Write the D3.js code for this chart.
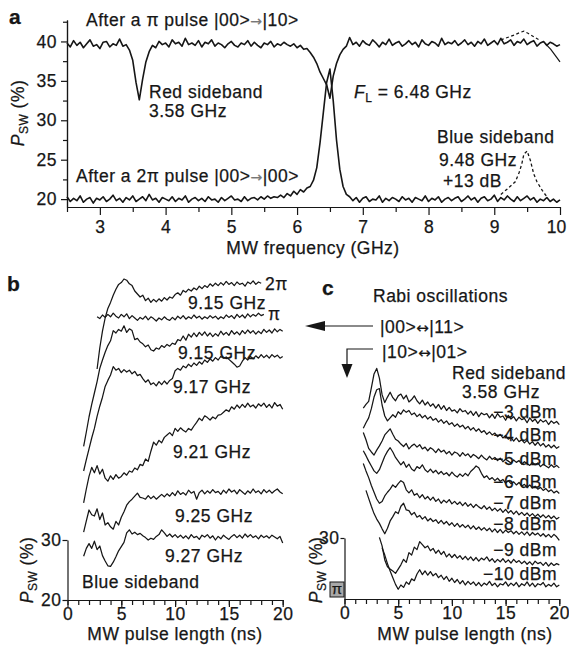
<!DOCTYPE html>
<html>
<head>
<meta charset="utf-8">
<script src="https://cdn.jsdelivr.net/npm/d3@7"></script>
<style>
  body { margin: 0; background: #fff; }
</style>
</head>
<body>
<div id="chart"></div>
<script>
// ---------- panel a : P_SW vs MW frequency, 0.05 GHz grid ----------
var aFreqStart = 2.5, aFreqStep = 0.05;
var aPiPulse = [
  39.8, 39.3, 40.1, 39.5, 39.9, 39.2, 39.7, 40.2, 39.4, 39.6, 39.1, 39.9, 40.0, 39.3, 39.7, 39.5, 40.3, 39.4, 39.6,
  38.9, 37.6, 34.8, 32.6, 35.2, 37.4, 38.7, 39.5,
  39.2, 40.0, 39.6, 39.8, 39.3, 40.2, 39.7, 39.9, 39.4, 40.4, 39.6, 39.8, 39.5, 40.1, 39.3, 39.9, 39.7, 40.2, 39.4, 39.8,
  39.6, 39.2, 39.7, 40.0, 39.5, 39.3, 39.8, 39.6, 40.1, 39.4, 39.9, 39.5, 39.2, 39.8, 39.6, 40.0, 39.3, 39.7, 39.5, 39.9,
  39.6, 39.4, 39.7, 39.2, 39.5, 39.0,
  39.1, 38.6, 38.0, 37.2, 36.1, 35.3, 34.5, 32.8, 35.6, 37.2, 38.3, 39.0, 39.4, 40.5,
  39.6, 39.9, 39.4, 40.1, 39.7, 39.5, 40.2, 39.8, 39.3, 39.9, 39.6, 40.3, 39.5, 39.8, 40.0, 39.4, 39.7, 40.1, 39.6, 39.9,
  39.3, 40.2, 39.7, 39.5, 40.0, 39.8, 39.4, 40.4, 39.6, 39.9, 39.7, 40.1, 39.5, 39.8, 40.2, 39.6, 39.9, 39.4, 40.0, 39.7,
  40.3, 39.5, 39.8, 40.1, 39.6, 40.4, 39.7, 39.9, 40.2, 39.5, 40.0, 39.8, 40.3, 39.6, 39.9, 40.1, 39.4, 39.8, 40.0, 39.5,
  39.9, 39.7, 39.4, 39.6
];
var a2PiPulse = [
  20.3, 19.7, 20.1, 19.8, 20.4, 19.6, 20.0, 20.2, 19.5, 20.1, 19.9, 20.3, 19.7, 20.0, 20.5, 19.8, 20.1, 19.6, 20.2, 19.9,
  20.4, 19.7, 20.0, 20.3, 19.8, 20.6, 19.9, 20.1, 19.6, 20.2, 20.0, 19.8, 20.3, 19.7, 20.1, 19.9, 20.4, 19.6, 20.0, 20.2,
  19.8, 20.1, 19.7, 20.3, 19.9, 20.0, 19.6, 20.2, 19.8, 20.1, 20.4, 19.9, 20.0, 19.7, 20.3, 19.8, 20.1, 20.2, 19.9, 20.3,
  20.0, 20.4, 20.1, 20.3, 20.2,
  20.5, 20.2, 20.7, 20.4, 21.0, 20.6, 21.2, 20.9, 21.4, 21.6, 22.4, 24.0, 27.2, 31.0, 34.8, 36.5, 32.5, 27.5, 23.8, 21.6,
  20.6, 20.3,
  19.8, 20.2, 19.6, 20.1, 20.3, 19.7, 20.0, 19.9, 20.4, 19.6, 20.1, 19.8, 20.2, 20.0, 19.7, 20.3, 19.9, 20.1, 19.6, 20.2,
  20.0, 19.8, 20.4, 19.7, 20.1, 19.9, 20.3, 19.6, 20.0, 20.2, 19.8, 20.1, 20.3, 19.7, 20.0, 20.4, 19.9, 20.2, 19.6, 20.1,
  20.3, 19.8, 20.0, 20.5, 19.7, 20.2, 19.9, 20.4, 20.0, 19.7, 20.3, 19.8, 20.1, 20.4, 19.9, 20.2, 19.6, 20.0, 19.8, 20.2,
  19.7, 20.0, 19.6, 19.9
];
var aBlueDashX = [9.1, 9.2, 9.32, 9.38, 9.42, 9.45, 9.5, 9.55, 9.6, 9.65, 9.73, 9.8];
var aBlueDashY = [20.6, 21.3, 22.2, 23.4, 24.5, 25.7, 26.1, 24.9, 23.2, 22.2, 21.1, 20.3];
var aTopDashX = [9.1, 9.2, 9.3, 9.38, 9.45, 9.52, 9.6, 9.68];
var aTopDashY = [40.2, 40.5, 40.8, 41.1, 41.3, 41.0, 40.6, 40.2];
var aTailX = [9.78, 9.86, 9.93, 10.0];
var aTailY = [39.7, 39.0, 38.2, 37.4];
var aMajorX = [3, 4, 5, 6, 7, 8, 9, 10];
var aMinorX = [2.5, 3.5, 4.5, 5.5, 6.5, 7.5, 8.5, 9.5];
var aMajorY = [20, 25, 30, 35, 40];
var aMinorY = [22.5, 27.5, 32.5, 37.5, 42.5];

// ---------- panel b : blue sideband, 0.25 ns grid (values in offset axis units) ----------
var pulseStep = 0.25;
var bTrace2Pi = [58.5, 62.0, 64.8, 67.0, 68.6, 69.6, 70.8, 71.8, 72.6, 72.9, 73.5, 73.3, 72.7, 72.4, 71.5, 71.0, 70.5, 70.8, 69.9, 70.3,
  69.6, 70.1, 69.7, 70.2, 69.8, 70.4, 70.0, 70.5, 70.3, 70.9, 71.2, 70.8, 71.6, 71.3, 71.8, 71.5, 72.0, 71.7, 72.3, 71.9,
  72.4, 72.1, 72.7, 72.3, 72.8, 72.4, 72.9, 72.5, 73.1, 72.6, 72.9, 72.4, 73.0, 72.6, 72.8, 72.3, 73.0, 72.7, 73.2, 72.6,
  73.0, 72.8];
var bTracePi = [67.2, 66.9, 67.5, 67.1, 67.6, 67.2, 67.8, 67.3, 67.0, 67.6, 67.2, 67.7, 66.9, 67.4, 67.0, 66.6, 67.1, 66.8, 67.3, 66.7,
  67.2, 66.9, 66.5, 67.0, 66.7, 67.2, 66.8, 66.6, 67.1, 66.7, 67.3, 66.9, 67.4, 66.8, 67.2, 66.9, 67.5, 67.0, 67.3, 66.8,
  67.2, 66.9, 67.4, 67.0, 67.3, 66.8, 67.2, 66.9, 67.5, 67.1, 67.4, 66.9, 67.6, 67.1, 67.5, 67.0, 67.7, 67.2, 67.6, 67.3,
  67.8, 67.4, 67.6];
var bTrace915 = [45.6, 48.0, 50.5, 52.6, 54.5, 56.4, 58.6, 60.0, 61.3, 62.4, 63.2, 64.9, 64.5, 65.1, 64.8, 65.7, 64.6, 65.2, 64.9, 63.4,
  63.6, 63.0, 62.7, 62.2, 62.5, 61.7, 61.5, 62.0, 61.8, 62.4, 62.1, 62.6, 62.3, 62.8, 62.6, 63.4, 63.2, 64.0, 63.3, 64.3,
  63.8, 64.5, 63.9, 64.6, 64.1, 64.7, 64.0, 64.5, 63.9, 64.4, 64.0, 64.8, 64.2, 64.6, 64.1, 64.9, 64.3, 64.7, 64.2, 64.9,
  64.4, 65.0, 64.5, 64.9, 64.3, 64.8, 64.4, 65.1, 64.6, 65.0, 64.5, 65.2, 64.7, 65.1, 64.8];
var bTrace917 = [41.5, 43.4, 45.2, 47.0, 48.6, 50.6, 52.3, 53.8, 55.6, 56.6, 57.5, 58.9, 58.3, 58.6, 57.9, 58.4, 58.0, 58.3, 57.7, 58.1,
  57.4, 57.6, 56.9, 56.3, 56.7, 55.9, 56.2, 55.7, 56.4, 55.9, 56.5, 56.0, 56.6, 56.9, 58.2, 58.6, 58.3, 59.0, 58.7, 59.3,
  58.9, 59.5, 59.1, 59.7, 59.3, 60.0, 59.6, 60.2, 59.8, 60.4, 60.0, 60.6, 60.3, 60.5, 60.1, 59.7, 59.3, 58.8, 59.0, 59.8,
  60.4, 60.0, 60.6, 60.2, 60.7, 60.3, 60.9, 60.4, 60.8, 60.3, 60.9, 60.5, 60.8, 60.3, 60.6];
var bTrace921 = [36.2, 38.5, 40.6, 42.1, 41.2, 42.4, 41.0, 41.8, 40.3, 39.8, 40.7, 40.1, 40.9, 40.3, 40.6, 41.2, 40.8, 41.5, 41.3, 42.0,
  41.7, 42.6, 42.4, 43.5, 43.1, 44.8, 46.3, 45.8, 46.6, 46.2, 47.1, 47.5, 47.9, 47.4, 48.6, 48.1, 48.7, 48.3, 48.0, 48.6,
  48.3, 49.0, 49.6, 50.3, 49.9, 50.7, 50.4, 50.0, 50.5, 50.2, 50.8, 50.9, 51.3, 51.7, 51.4, 52.2, 51.8, 52.5, 52.0, 52.6,
  52.1, 52.8, 52.2, 52.5, 52.0, 52.7, 52.3, 52.8, 52.1, 52.6, 52.0, 52.9, 52.3, 52.6, 51.8];
var bTrace925 = [31.3, 33.2, 35.0, 34.2, 34.0, 35.2, 33.4, 34.5, 32.5, 32.9, 32.2, 31.8, 33.1, 32.5, 33.8, 34.7, 35.8, 36.4, 36.8, 37.3,
  37.8, 37.1, 37.0, 36.8, 37.4, 36.9, 37.3, 36.8, 37.2, 37.6, 37.2, 37.7, 37.3, 37.9, 37.4, 38.2, 37.6, 37.9, 37.5, 38.3,
  37.8, 38.1, 36.8, 37.9, 38.3, 37.7, 38.2, 37.8, 38.4, 37.9, 38.1, 37.6, 38.3, 37.8, 38.5, 38.0, 38.3, 37.7, 38.4, 38.0,
  37.6, 38.2, 37.8, 38.5, 37.9, 38.2, 37.7, 38.4, 37.9, 38.3, 37.8, 38.2, 38.5, 38.0, 37.7];
var bTrace927 = [27.3, 28.6, 29.4, 28.6, 29.8, 28.4, 29.0, 27.4, 26.5, 25.7, 25.6, 26.3, 27.2, 28.2, 28.9, 29.6, 31.2, 31.7, 31.0, 31.3,
  30.9, 31.1, 30.7, 30.4, 30.0, 30.3, 30.1, 30.6, 30.9, 31.7, 31.2, 30.6, 31.0, 30.5, 30.9, 30.4, 30.8, 30.3, 30.7, 30.2,
  30.9, 30.4, 30.6, 30.1, 30.8, 30.5, 30.9, 30.3, 30.7, 30.0, 30.6, 30.2, 30.8, 30.4, 30.1, 30.6, 30.9, 30.4, 30.8, 30.3,
  31.0, 30.5, 30.9, 30.4, 30.7, 30.2, 30.8, 30.4, 30.7, 30.3, 30.8, 30.5, 30.2, 30.6, 29.5];
var bStartNs = [2.75, 2.75, 1.5, 1.5, 1.5, 1.5, 1.5];
var bNames = ["2\u03c0", "\u03c0", "9.15 GHz", "9.17 GHz", "9.21 GHz", "9.25 GHz", "9.27 GHz"];

// ---------- panel c : red sideband Rabi, 0.25 ns grid ----------
var cTrace3 = [51.3, 51.9, 52.4, 54.6, 56.9, 57.8, 56.2, 53.5, 52.2, 53.1, 53.9, 53.0, 52.5, 53.3, 53.6, 52.8, 53.4, 52.3, 52.7, 53.3,
  52.5, 52.0, 52.6, 51.8, 52.3, 51.6, 52.0, 51.3, 51.9, 51.1, 51.7, 50.9, 51.4, 50.8, 51.0, 50.5, 51.2, 50.7, 50.9, 50.3,
  50.8, 50.1, 50.7, 49.9, 50.5, 50.2, 50.4, 49.7, 50.3, 49.6, 50.4, 49.8, 50.0, 49.3, 50.1, 49.5, 49.9, 49.2, 49.8, 49.4,
  49.6, 48.9, 49.7, 49.1, 49.5, 48.8, 49.4, 49.0, 49.3, 48.6, 49.2, 48.8, 49.1, 48.6];
var cTrace4 = [48.0, 48.9, 49.7, 51.2, 53.1, 54.3, 54.5, 51.8, 50.0, 49.2, 49.7, 50.2, 49.8, 50.7, 50.3, 51.0, 50.6, 50.9, 50.2, 50.5,
  49.9, 50.3, 49.7, 50.1, 49.5, 49.9, 49.3, 49.6, 49.0, 49.4, 48.8, 49.2, 48.6, 48.9, 48.3, 48.7, 48.2, 48.5, 47.9, 48.3,
  47.7, 48.1, 47.5, 47.9, 47.3, 47.6, 47.0, 47.4, 46.9, 47.2, 46.6, 47.0, 46.4, 46.8, 46.2, 46.5, 45.9, 46.4, 45.8, 46.1,
  45.6, 46.0, 45.4, 45.8, 45.2, 45.7, 45.1, 45.5, 44.9, 45.3, 44.8, 45.2, 44.7, 45.0];
var cTrace5 = [47.3, 46.1, 44.7, 44.1, 43.6, 44.4, 45.1, 45.9, 46.9, 47.4, 47.9, 47.0, 46.2, 45.9, 45.4, 45.0, 45.5, 44.6, 45.1, 45.4,
  44.9, 45.3, 44.6, 44.9, 44.3, 44.8, 44.5, 44.0, 44.6, 44.1, 44.4, 43.8, 44.2, 43.6, 44.1, 43.9, 43.4, 44.0, 43.5, 43.8,
  43.2, 43.7, 43.4, 43.0, 43.6, 43.1, 42.8, 43.4, 42.9, 43.2, 42.7, 43.1, 42.5, 42.9, 42.6, 42.3, 42.8, 42.4, 42.7, 42.1,
  42.5, 42.2, 41.9, 42.4, 42.0, 42.3, 41.7, 42.1, 41.8, 41.5, 42.0, 41.6, 41.9, 41.5];
var cTrace6 = [44.3, 43.5, 42.6, 41.8, 41.0, 40.6, 41.2, 42.3, 43.4, 44.2, 44.8, 44.1, 43.2, 42.6, 42.0, 42.5, 41.6, 42.1, 41.3, 41.0,
  41.7, 41.4, 42.0, 41.2, 40.8, 41.3, 40.7, 41.1, 40.5, 40.9, 40.4, 40.7, 40.2, 40.8, 40.3, 40.0, 40.5, 40.1, 40.6, 40.2,
  40.9, 41.3, 41.8, 41.5, 40.6, 39.9, 40.2, 39.6, 39.9, 39.4, 39.8, 39.3, 39.6, 39.0, 39.4, 38.9, 39.2, 38.7, 39.1, 38.5,
  38.8, 38.3, 38.7, 38.2, 38.5, 38.0, 38.3, 37.8, 38.1, 37.6, 37.9, 37.4, 37.7, 37.3];
var cTrace7 = [42.2, 41.0, 39.9, 38.6, 37.5, 36.4, 35.7, 36.0, 36.9, 37.5, 38.0, 38.7, 38.3, 38.9, 39.4, 39.1, 37.9, 37.4, 37.9, 37.0,
  37.3, 36.6, 37.1, 36.4, 36.8, 36.2, 36.7, 36.0, 36.4, 35.7, 36.2, 35.8, 36.3, 35.6, 36.0, 35.5, 35.9, 35.3, 35.8, 35.2,
  35.6, 35.0, 35.5, 35.1, 34.8, 35.3, 34.7, 35.1, 34.5, 34.9, 34.4, 34.8, 34.2, 34.7, 34.1, 34.5, 33.9, 34.4, 33.8, 34.2,
  33.7, 34.1, 33.6, 34.0, 33.5, 33.9, 33.4, 33.8, 33.3, 33.7, 33.2, 33.6, 33.1, 33.4];
var cTrace8 = [37.8, 36.5, 35.2, 34.0, 33.1, 32.4, 31.5, 30.7, 31.6, 32.8, 33.5, 34.3, 34.0, 35.2, 35.7, 34.6, 34.5, 33.8, 34.2, 33.4,
  33.7, 33.1, 33.5, 32.8, 33.2, 32.7, 33.0, 32.4, 32.9, 32.3, 32.7, 32.1, 32.5, 31.9, 32.4, 31.8, 32.2, 31.7, 32.1, 31.5,
  32.0, 31.4, 31.8, 31.3, 31.7, 31.2, 31.6, 31.0, 31.5, 30.9, 31.4, 30.8, 31.3, 30.9, 31.2, 30.7, 31.1, 30.6, 31.0, 30.5,
  31.0, 30.4, 30.9, 30.5, 30.8, 30.3, 30.7, 30.2, 30.6, 30.1, 30.6, 30.2, 29.6];
var cTrace9 = [30.1, 28.7, 26.4, 25.3, 24.9, 24.6, 24.2, 24.9, 25.6, 26.5, 26.0, 27.6, 27.2, 28.5, 28.1, 29.4, 28.9, 28.4, 28.7, 27.9,
  28.3, 27.5, 28.0, 27.3, 27.8, 26.9, 27.4, 26.8, 27.3, 26.7, 27.1, 26.5, 27.0, 26.4, 26.9, 26.3, 26.8, 26.2, 26.7, 26.4,
  26.9, 26.2, 26.6, 26.0, 26.5, 26.1, 26.6, 26.0, 26.4, 25.9, 26.5, 26.0, 26.3, 25.8, 26.2, 25.7, 26.1, 25.6, 26.2, 25.8,
  26.0, 25.5, 26.0, 25.4, 25.9, 25.5, 25.8, 25.6];
var cTrace10 = [28.4, 27.2, 25.8, 24.6, 23.5, 22.4, 21.6, 22.3, 21.9, 22.8, 22.4, 23.3, 23.0, 24.1, 24.8, 24.0, 24.6, 23.9, 24.5, 23.8,
  24.2, 23.5, 23.9, 23.2, 23.7, 22.9, 23.4, 22.7, 23.2, 22.5, 23.0, 22.3, 22.9, 22.4, 22.8, 22.2, 22.7, 22.1, 22.6, 22.3,
  22.9, 22.2, 22.6, 22.0, 22.5, 22.3, 22.8, 22.1, 22.6, 22.2, 22.7, 22.0, 22.5, 22.2, 22.8, 22.1, 22.6, 22.0, 22.5, 22.3,
  22.7, 22.0, 22.4, 22.1, 22.6, 22.0, 22.3];
var cStartNs = [1.75, 1.75, 1.75, 1.75, 1.75, 2.0, 3.25, 3.5];
var cNames = ["\u22123 dBm", "\u22124 dBm", "\u22125 dBm", "\u22126 dBm", "\u22127 dBm", "\u22128 dBm", "\u22129 dBm", "\u221210 dBm"];
var pulseMajor = [0, 5, 10, 15, 20];
var pulseMinor = d3.range(0, 21);

var FONT = "'Liberation Sans', Arial, Helvetica, sans-serif";
var INK = "#161616";
var FS = 17.5;

var svg = d3.select("#chart").append("svg")
    .attr("width", 569)
    .attr("height", 645)
    .attr("font-family", FONT);
svg.append("rect").attr("width", 569).attr("height", 645).attr("fill", "#fff");

function styleAxis(g) {
  g.selectAll(".domain").attr("stroke", INK).attr("stroke-width", 1.2);
  g.selectAll(".tick line").attr("stroke", INK).attr("stroke-width", 1.2);
  g.selectAll(".tick text")
   .attr("font-size", FS)
   .attr("font-family", FONT)
   .attr("letter-spacing", 0.5)
   .attr("stroke", INK).attr("stroke-width", 0.25)
   .attr("fill", INK);
}

function addText(x, y, s, opt) {
  opt = opt || {};
  return svg.append("text")
    .attr("x", x).attr("y", y)
    .attr("font-size", opt.size || FS)
    .attr("font-weight", opt.weight || null)
    .attr("letter-spacing", opt.ls == null ? 0.5 : opt.ls)
    .attr("text-anchor", opt.anchor || "start")
    .attr("stroke", INK).attr("stroke-width", 0.25)
    .attr("fill", INK)
    .text(s);
}

function ket(x, y, a, arrow, b, arrowSize, arrowColor) {
  var t = svg.append("text").attr("x", x).attr("y", y)
    .attr("font-size", FS).attr("letter-spacing", 0.5)
    .attr("stroke", INK).attr("stroke-width", 0.25).attr("fill", INK);
  t.append("tspan").text(a);
  t.append("tspan").attr("font-size", arrowSize).attr("font-family", "'DejaVu Sans', sans-serif")
    .attr("fill", arrowColor).attr("stroke", arrowColor).text(arrow);
  t.append("tspan").text(b);
  return t;
}

function yTitle(x, y) {
  var t = svg.append("text")
    .attr("transform", "translate(" + x + "," + y + ") rotate(-90)")
    .attr("text-anchor", "middle")
    .attr("font-size", FS)
    .attr("letter-spacing", 0.5)
    .attr("stroke", INK).attr("stroke-width", 0.25)
    .attr("fill", INK);
  t.append("tspan").attr("font-style", "italic").text("P");
  t.append("tspan").attr("font-size", 12).attr("dy", 4).text("SW");
  t.append("tspan").attr("dy", -4).text(" (%)");
}

// ================= panel a =================
var xA = d3.scaleLinear().domain([2.5, 10]).range([67, 560]);
var yA = d3.scaleLinear().domain([19, 42.72]).range([207, 20]);

var gxA = svg.append("g").attr("transform", "translate(0,207)");
gxA.append("g").call(d3.axisBottom(xA).tickValues(aMinorX).tickSize(5).tickSizeOuter(0).tickFormat(""));
gxA.append("g").call(d3.axisBottom(xA).tickValues(aMajorX).tickSize(8).tickPadding(6).tickSizeOuter(0));
styleAxis(gxA);
// last label sits at the page edge: pull it in a little
gxA.selectAll(".tick text").filter(function(d) { return d === 10; }).attr("dx", -4).attr("letter-spacing", 0);

var gyA = svg.append("g").attr("transform", "translate(67,0)");
gyA.append("g").call(d3.axisLeft(yA).tickValues(aMinorY).tickSize(4).tickSizeOuter(0).tickFormat(""));
gyA.append("g").call(d3.axisLeft(yA).tickValues(aMajorY).tickSize(6).tickPadding(4).tickSizeOuter(0));
styleAxis(gyA);

var lineA = d3.line().x(function(d) { return xA(d[0]); }).y(function(d) { return yA(d[1]); });
function gridPts(start, step, vals) {
  return vals.map(function(v, i) { return [start + i * step, v]; });
}
function pairPts(xs, ys) {
  return xs.map(function(x, i) { return [x, ys[i]]; });
}

[aPiPulse, a2PiPulse].forEach(function(vals) {
  svg.append("path")
    .attr("d", lineA(gridPts(aFreqStart, aFreqStep, vals)))
    .attr("fill", "none").attr("stroke", INK).attr("stroke-width", 1.6)
    .attr("stroke-linejoin", "round");
});
svg.append("path").attr("d", lineA(pairPts(aBlueDashX, aBlueDashY)))
  .attr("fill", "none").attr("stroke", INK).attr("stroke-width", 1.3).attr("stroke-dasharray", "3,2.5");
svg.append("path").attr("d", lineA(pairPts(aTopDashX, aTopDashY)))
  .attr("fill", "none").attr("stroke", INK).attr("stroke-width", 1.2).attr("stroke-dasharray", "3,2.5");
svg.append("path").attr("d", lineA(pairPts(aTailX, aTailY)))
  .attr("fill", "none").attr("stroke", INK).attr("stroke-width", 1.2);

addText(9, 24, "a", { size: 21, weight: "bold", ls: 0 });
ket(86, 26, "After a \u03c0 pulse |00>", "\u2192", "|10>", 14, "#777");
ket(76, 182, "After a 2\u03c0 pulse |00>", "\u2192", "|00>", 14, "#777");
addText(149, 98, "Red sideband");
addText(149, 117, "3.58 GHz");
var fl = svg.append("text").attr("x", 354).attr("y", 98).attr("font-size", FS)
  .attr("letter-spacing", 0.5).attr("stroke", INK).attr("stroke-width", 0.25).attr("fill", INK);
fl.append("tspan").attr("font-style", "italic").text("F");
fl.append("tspan").attr("font-size", 12).attr("dy", 4).text("L");
fl.append("tspan").attr("dy", -4).text(" = 6.48 GHz");
addText(437, 143, "Blue sideband");
addText(439, 166, "9.48 GHz");
addText(443, 187, "+13 dB");
addText(313, 254, "MW frequency (GHz)", { anchor: "middle" });
yTitle(24, 113);

// ================= panel b =================
var xB = d3.scaleLinear().domain([0, 20]).range([67.5, 282.7]);
var yB = d3.scaleLinear().domain([20, 30]).range([600, 540]);

var gxB = svg.append("g").attr("transform", "translate(0,600)");
gxB.append("g").call(d3.axisBottom(xB).tickValues(pulseMinor).tickSize(5).tickSizeOuter(0).tickFormat(""));
gxB.append("g").call(d3.axisBottom(xB).tickValues(pulseMajor).tickSize(7).tickPadding(1).tickSizeOuter(0));
styleAxis(gxB);
var gyB = svg.append("g").attr("transform", "translate(67.5,0)");
gyB.call(d3.axisLeft(yB).tickValues([20, 30]).tickSize(5).tickPadding(1).tickSizeOuter(0));
styleAxis(gyB);

var lineB = d3.line().x(function(d) { return xB(d[0]); }).y(function(d) { return yB(d[1]); });
[bTrace2Pi, bTracePi, bTrace915, bTrace917, bTrace921, bTrace925, bTrace927].forEach(function(vals, k) {
  svg.append("path")
    .attr("d", lineB(gridPts(bStartNs[k], pulseStep, vals)))
    .attr("fill", "none").attr("stroke", INK).attr("stroke-width", 1.25)
    .attr("stroke-linejoin", "round");
});

addText(7, 291, "b", { size: 21, weight: "bold", ls: 0 });
var bLabelPos = [[265, 290], [268, 320], [188, 309], [173, 393], [173, 458], [175, 522], [165, 562]];
bNames.forEach(function(s, k) { addText(bLabelPos[k][0], bLabelPos[k][1], s); });
addText(178, 359, "9.15 GHz");
addText(82, 588, "Blue sideband");
addText(175, 640, "MW pulse length (ns)", { anchor: "middle" });
yTitle(33, 570);

// ================= panel c =================
var xC = d3.scaleLinear().domain([0, 20]).range([344.5, 559.3]);
var yC = d3.scaleLinear().domain([20, 30]).range([599, 538]);

var gxC = svg.append("g").attr("transform", "translate(0,599)");
gxC.append("g").call(d3.axisBottom(xC).tickValues(pulseMinor).tickSize(5).tickSizeOuter(0).tickFormat(""));
gxC.append("g").call(d3.axisBottom(xC).tickValues(pulseMajor).tickSize(7).tickPadding(1).tickSizeOuter(0));
styleAxis(gxC);
var gyC = svg.append("g").attr("transform", "translate(344.5,0)");
gyC.call(d3.axisLeft(yC).tickValues([30]).tickSize(4).tickPadding(1).tickSizeOuter(0));
styleAxis(gyC);

var lineC = d3.line().x(function(d) { return xC(d[0]); }).y(function(d) { return yC(d[1]); });
[cTrace3, cTrace4, cTrace5, cTrace6, cTrace7, cTrace8, cTrace9, cTrace10].forEach(function(vals, k) {
  svg.append("path")
    .attr("d", lineC(gridPts(cStartNs[k], pulseStep, vals)))
    .attr("fill", "none").attr("stroke", INK).attr("stroke-width", 1.25)
    .attr("stroke-linejoin", "round");
});

// pi pulse box
svg.append("rect").attr("x", 330).attr("y", 582).attr("width", 14).attr("height", 15)
  .attr("fill", "#a8a8a8").attr("stroke", INK).attr("stroke-width", 1);
addText(337, 594, "\u03c0", { size: 15, anchor: "middle", ls: 0 });

addText(322, 295, "c", { size: 21, weight: "bold", ls: 0 });
addText(373, 302, "Rabi oscillations");
ket(380, 333, "|00>", "\u2194", "|11>", 15, INK);
ket(382, 358, "|10>", "\u2194", "|01>", 15, INK);

// arrows pointing to panels b and c
svg.append("path").attr("d", "M373,326H322").attr("stroke", INK).attr("stroke-width", 1.2).attr("fill", "none");
svg.append("path").attr("d", "M305,326L325,321L325,331Z").attr("fill", INK);
svg.append("path").attr("d", "M373,349H347V366").attr("stroke", INK).attr("stroke-width", 1.2).attr("fill", "none");
svg.append("path").attr("d", "M347,378L341.5,364L352.5,364Z").attr("fill", INK);

addText(452, 379, "Red sideband");
addText(462, 398, "3.58 GHz");
var cLabelY = [418, 441, 465, 488, 509, 530, 556, 580];
cNames.forEach(function(s, k) { addText(557, cLabelY[k], s, { anchor: "end" }); });
addText(465, 640, "MW pulse length (ns)", { anchor: "middle" });
yTitle(322, 570);
</script>
</body>
</html>
